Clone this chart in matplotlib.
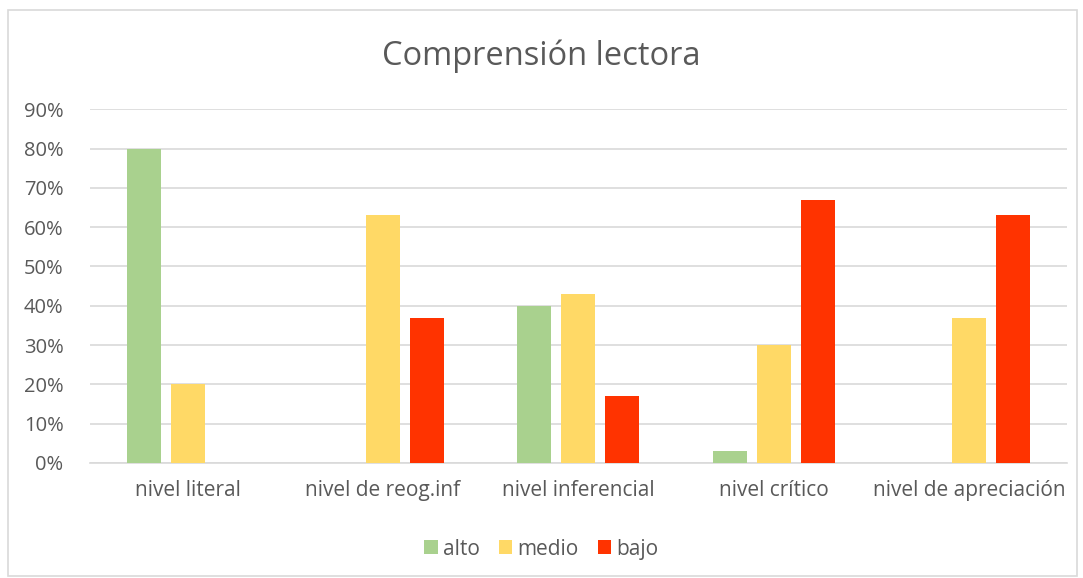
import numpy as np
import matplotlib
matplotlib.use("Agg")
import matplotlib.pyplot as plt
from matplotlib.patches import Rectangle
from matplotlib.ticker import PercentFormatter

# Datos
categorias = ["nivel literal", "nivel de reog.inf", "nivel inferencial",
              "nivel crítico", "nivel de apreciación"]
alto = [0.80, 0.00, 0.40, 0.03, 0.00]
medio = [0.20, 0.63, 0.43, 0.30, 0.37]
bajo = [0.00, 0.37, 0.17, 0.67, 0.63]

series = [("alto", alto, "#A9D18E"), ("medio", medio, "#FFD966"), ("bajo", bajo, "#FF3300")]

plt.rcParams["font.family"] = ["Open Sans", "DejaVu Sans"]
gris = "#595959"

fig = plt.figure(figsize=(10.83, 5.78), dpi=100)
ax = fig.add_axes([0.083, 0.199, 0.902, 0.612])

x = np.arange(len(categorias))
ancho = 0.174
paso = 0.225
for i, (nombre, valores, color) in enumerate(series):
    ax.bar(x + (i - 1) * paso, valores, ancho, color=color, label=nombre, zorder=3)

ax.set_xlim(-0.5, len(categorias) - 0.5)
ax.set_ylim(0, 0.9)
ax.set_yticks(np.arange(0, 0.91, 0.1))
ax.yaxis.set_major_formatter(PercentFormatter(1.0, decimals=0))
ax.set_xticks(x)
ax.set_xticklabels(categorias)
ax.grid(axis="y", color="#D9D9D9", linewidth=1.2, zorder=0)
for s in ["top", "right", "left"]:
    ax.spines[s].set_visible(False)
ax.spines["bottom"].set_color("#D9D9D9")
ax.spines["bottom"].set_linewidth(1.2)
ax.tick_params(axis="x", length=0, labelsize=15, colors=gris, pad=12)
ax.tick_params(axis="y", length=0, labelsize=14.5, colors=gris, pad=19)

fig.text(0.5, 0.903, "Comprensión lectora", ha="center", va="center",
         fontsize=23.5, color=gris)

fig.legend(loc="center", bbox_to_anchor=(0.5, 0.05), ncol=3, frameon=False,
           fontsize=15, labelcolor=gris, handlelength=0.65, handleheight=0.65,
           handletextpad=0.25, columnspacing=0.9)

fig.patches.append(Rectangle((8 / 1083, 2 / 578), 1069 / 1083, 566 / 578,
                             transform=fig.transFigure, fill=False,
                             edgecolor="#D9D9D9", linewidth=1.2))

fig.savefig("out.png", dpi=100, facecolor="white")
